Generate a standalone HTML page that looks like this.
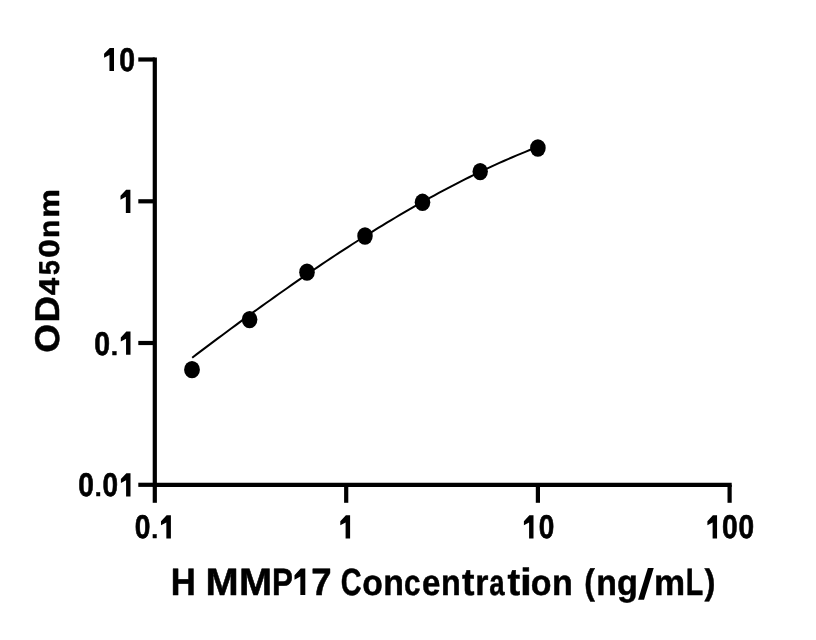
<!DOCTYPE html>
<html><head><meta charset="utf-8"><title>Chart</title>
<style>
html,body{margin:0;padding:0;background:#fff;}
body{width:816px;height:640px;overflow:hidden;font-family:"Liberation Sans",sans-serif;}
svg{display:block;will-change:transform;}
text.h{fill:none;stroke:none;}
text{font-family:"Liberation Sans",sans-serif;font-weight:bold;fill:#000;text-rendering:geometricPrecision;}
</style></head><body>
<svg width="816" height="640" viewBox="0 0 816 640">
<rect width="816" height="640" fill="#fff"/>
<path d="M154.8,57.4 V484.8 H731.7" fill="none" stroke="#000" stroke-width="4.2" stroke-linejoin="miter"/>
<line x1="138.3" x2="154.8" y1="59.5" y2="59.5" stroke="#000" stroke-width="4.2"/>
<line x1="138.3" x2="154.8" y1="201.3" y2="201.3" stroke="#000" stroke-width="4.2"/>
<line x1="138.3" x2="154.8" y1="343.0" y2="343.0" stroke="#000" stroke-width="4.2"/>
<line x1="138.3" x2="154.8" y1="484.8" y2="484.8" stroke="#000" stroke-width="4.2"/>
<line x1="154.8" x2="154.8" y1="484.8" y2="502.8" stroke="#000" stroke-width="4.2"/>
<line x1="346.2" x2="346.2" y1="484.8" y2="502.8" stroke="#000" stroke-width="4.2"/>
<line x1="537.9" x2="537.9" y1="484.8" y2="502.8" stroke="#000" stroke-width="4.2"/>
<line x1="729.6" x2="729.6" y1="484.8" y2="502.8" stroke="#000" stroke-width="4.2"/>
<path d="M192.20,357.70 L196.53,354.42 L200.85,351.15 L205.18,347.89 L209.51,344.64 L213.83,341.40 L218.16,338.16 L222.49,334.94 L226.81,331.73 L231.14,328.52 L235.47,325.33 L239.79,322.15 L244.12,318.98 L248.45,315.82 L252.77,312.67 L257.10,309.54 L261.43,306.41 L265.75,303.30 L270.08,300.21 L274.41,297.12 L278.73,294.05 L283.06,291.00 L287.38,287.96 L291.71,284.93 L296.04,281.92 L300.36,278.92 L304.69,275.94 L309.02,272.98 L313.34,270.03 L317.67,267.10 L322.00,264.18 L326.32,261.28 L330.65,258.40 L334.98,255.54 L339.30,252.69 L343.63,249.87 L347.96,247.06 L352.28,244.27 L356.61,241.50 L360.94,238.75 L365.26,236.02 L369.59,233.31 L373.92,230.62 L378.24,227.95 L382.57,225.30 L386.90,222.68 L391.22,220.07 L395.55,217.49 L399.88,214.93 L404.20,212.39 L408.53,209.88 L412.86,207.39 L417.18,204.92 L421.51,202.48 L425.84,200.06 L430.16,197.66 L434.49,195.29 L438.82,192.95 L443.14,190.63 L447.47,188.33 L451.79,186.06 L456.12,183.82 L460.45,181.61 L464.77,179.42 L469.10,177.26 L473.43,175.13 L477.75,173.02 L482.08,170.95 L486.41,168.90 L490.73,166.88 L495.06,164.89 L499.39,162.93 L503.71,161.00 L508.04,159.09 L512.37,157.22 L516.69,155.38 L521.02,153.58 L525.35,151.80 L529.67,150.05 L534.00,148.34" fill="none" stroke="#000" stroke-width="2" stroke-linecap="butt"/>
<ellipse cx="192.0" cy="369.7" rx="7.9" ry="8.6" fill="#000"/>
<ellipse cx="249.6" cy="319.6" rx="7.8" ry="8.6" fill="#000"/>
<ellipse cx="307.0" cy="272.15" rx="7.8" ry="8.65" fill="#000"/>
<ellipse cx="365.0" cy="236.0" rx="7.75" ry="8.75" fill="#000"/>
<ellipse cx="422.5" cy="202.3" rx="7.8" ry="8.7" fill="#000"/>
<ellipse cx="480.2" cy="171.6" rx="7.7" ry="8.7" fill="#000"/>
<ellipse cx="537.9" cy="148.0" rx="7.8" ry="8.7" fill="#000"/>
<g stroke="#000" stroke-width="0.6" stroke-linejoin="round">
<text x="104.1" y="71.1" font-size="32.9" class="h">1</text>
<path d="M114.00,71.10 L114.00,47.90 L109.76,47.90 L104.10,53.76 L104.10,57.77 L109.45,54.97 L109.45,71.10Z" fill="#000" stroke="none"/>
<text transform="translate(119.16,70.85) scale(0.8650,1)" font-size="32.85">0</text>
</g>
<g stroke="#000" stroke-width="0.6" stroke-linejoin="round">
<text x="120.5" y="213.0" font-size="32.9" class="h">1</text>
<path d="M130.40,213.00 L130.40,189.80 L126.16,189.80 L120.50,195.66 L120.50,199.67 L125.85,196.87 L125.85,213.00Z" fill="#000" stroke="none"/>
</g>
<g stroke="#000" stroke-width="0.6" stroke-linejoin="round">
<text transform="translate(94.26,354.55) scale(0.8650,1)" font-size="32.85">0</text>
<text transform="translate(110.80,354.50) scale(0.8044,0.7508)" font-size="32.85">.</text>
<text x="120.8" y="354.8" font-size="32.9" class="h">1</text>
<path d="M130.50,354.80 L130.50,331.60 L126.34,331.60 L120.80,337.46 L120.80,341.47 L126.05,338.67 L126.05,354.80Z" fill="#000" stroke="none"/>
</g>
<g stroke="#000" stroke-width="0.6" stroke-linejoin="round">
<text transform="translate(78.27,496.15) scale(0.8586,1)" font-size="32.85">0</text>
<text transform="translate(94.75,496.10) scale(0.7609,0.7508)" font-size="32.85">.</text>
<text transform="translate(102.48,496.15) scale(0.8522,1)" font-size="32.85">0</text>
<text x="120.9" y="496.4" font-size="32.9" class="h">1</text>
<path d="M130.50,496.40 L130.50,473.20 L126.39,473.20 L120.90,479.06 L120.90,483.07 L126.09,480.27 L126.09,496.40Z" fill="#000" stroke="none"/>
</g>
<g stroke="#000" stroke-width="0.6" stroke-linejoin="round">
<text transform="translate(134.67,538.30) scale(0.8586,1)" font-size="32.85">0</text>
<text transform="translate(151.35,538.25) scale(0.7609,0.7508)" font-size="32.85">.</text>
<text x="161.0" y="538.5" font-size="32.9" class="h">1</text>
<path d="M170.90,538.55 L170.90,515.35 L166.66,515.35 L161.00,521.21 L161.00,525.22 L166.35,522.42 L166.35,538.55Z" fill="#000" stroke="none"/>
</g>
<g stroke="#000" stroke-width="0.6" stroke-linejoin="round">
<text x="340.3" y="538.5" font-size="32.9" class="h">1</text>
<path d="M350.10,538.55 L350.10,515.35 L345.90,515.35 L340.30,521.21 L340.30,525.22 L345.60,522.42 L345.60,538.55Z" fill="#000" stroke="none"/>
</g>
<g stroke="#000" stroke-width="0.6" stroke-linejoin="round">
<text x="523.9" y="538.5" font-size="32.9" class="h">1</text>
<path d="M533.50,538.55 L533.50,515.35 L529.39,515.35 L523.90,521.21 L523.90,525.22 L529.09,522.42 L529.09,538.55Z" fill="#000" stroke="none"/>
<text transform="translate(538.78,538.30) scale(0.8522,1)" font-size="32.85">0</text>
</g>
<g stroke="#000" stroke-width="0.6" stroke-linejoin="round">
<text x="707.4" y="538.5" font-size="32.9" class="h">1</text>
<path d="M717.05,538.55 L717.05,515.35 L712.91,515.35 L707.40,521.21 L707.40,525.22 L712.62,522.42 L712.62,538.55Z" fill="#000" stroke="none"/>
<text transform="translate(722.12,538.30) scale(0.8618,1)" font-size="32.85">0</text>
<text transform="translate(738.38,538.30) scale(0.8554,1)" font-size="32.85">0</text>
</g>
<g id="xtitle" stroke="#000" stroke-width="0.5" stroke-linejoin="round">
<text transform="translate(170.69,595.10) scale(0.9144,1)" font-size="38.0">H</text>
<text transform="translate(205.56,595.10) scale(1.0470,1)" font-size="38.0">M</text>
<text transform="translate(238.91,595.10) scale(1.0470,1)" font-size="38.0">M</text>
<text transform="translate(272.01,595.10) scale(0.8264,1)" font-size="38.0">P</text>
<text x="296" y="595" font-size="38" class="h">1</text>
<path d="M305.30,595.10 L305.30,568.50 L300.67,568.50 L294.50,575.22 L294.50,579.82 L300.34,576.60 L300.34,595.10Z" fill="#000" stroke="none"/>
<text transform="translate(311.20,595.10) scale(0.9621,1)" font-size="38.0">7</text>
<text transform="translate(340.70,595.10) scale(0.7593,1)" font-size="38.0">C</text>
<text transform="translate(362.15,595.10) scale(0.8863,0.955)" font-size="38.0">o</text>
<text transform="translate(383.15,595.10) scale(0.8899,0.955)" font-size="38.0">n</text>
<text transform="translate(404.06,595.10) scale(0.7813,0.955)" font-size="38.0">c</text>
<text transform="translate(422.03,595.10) scale(0.8717,0.955)" font-size="38.0">e</text>
<text transform="translate(441.05,595.10) scale(0.8519,0.955)" font-size="38.0">n</text>
<text transform="translate(461.88,595.10) scale(0.9847,1)" font-size="38.0">t</text>
<text transform="translate(475.30,595.10) scale(0.8913,0.955)" font-size="38.0">r</text>
<text transform="translate(489.17,595.10) scale(0.7255,0.955)" font-size="38.0">a</text>
<text transform="translate(507.57,595.10) scale(1.0017,1)" font-size="38.0">t</text>
<text transform="translate(520.02,595.10) scale(1.1209,1)" font-size="38.0">i</text>
<text transform="translate(530.79,595.10) scale(0.8937,0.955)" font-size="38.0">o</text>
<text transform="translate(552.04,595.10) scale(0.8953,0.955)" font-size="38.0">n</text>
<text transform="translate(584.26,594.17) scale(0.8365,0.9372)" font-size="38.0">(</text>
<text transform="translate(596.15,595.10) scale(0.8899,0.955)" font-size="38.0">n</text>
<text transform="translate(616.98,595.10) scale(0.9015,0.955)" font-size="38.0">g</text>
<text x="640" y="595" font-size="38" class="h">/</text>
<path d="M638.1,599.75 L644.0,599.75 L653.75,568.1 L647.85,568.1Z" fill="#000" stroke="none"/>
<text transform="translate(653.98,595.10) scale(0.9211,0.955)" font-size="38.0">m</text>
<text transform="translate(685.64,595.10) scale(0.7537,1)" font-size="38.0">L</text>
<text transform="translate(704.49,593.92) scale(0.8647,0.9316)" font-size="38.0">)</text>
</g>
<g id="ytitle" stroke="#000" stroke-width="0.5" stroke-linejoin="round">
<text transform="translate(58.55,352.83) rotate(-90) scale(1.0823,1)" font-size="34.3">O</text>
<text transform="translate(58.55,322.44) rotate(-90) scale(1.0714,1)" font-size="34.3">D</text>
<text transform="translate(58.55,295.22) rotate(-90) scale(1.0941,1)" font-size="28.7">4</text>
<text transform="translate(58.55,275.05) rotate(-90) scale(0.9268,1)" font-size="28.7">5</text>
<text transform="translate(58.55,257.79) rotate(-90) scale(1.1700,1)" font-size="28.7">0</text>
<text transform="translate(58.55,237.88) rotate(-90) scale(1.0345,1)" font-size="28.7">n</text>
<text transform="translate(58.55,217.85) rotate(-90) scale(1.1232,1)" font-size="28.7">m</text>
</g>
</svg>
</body></html>
